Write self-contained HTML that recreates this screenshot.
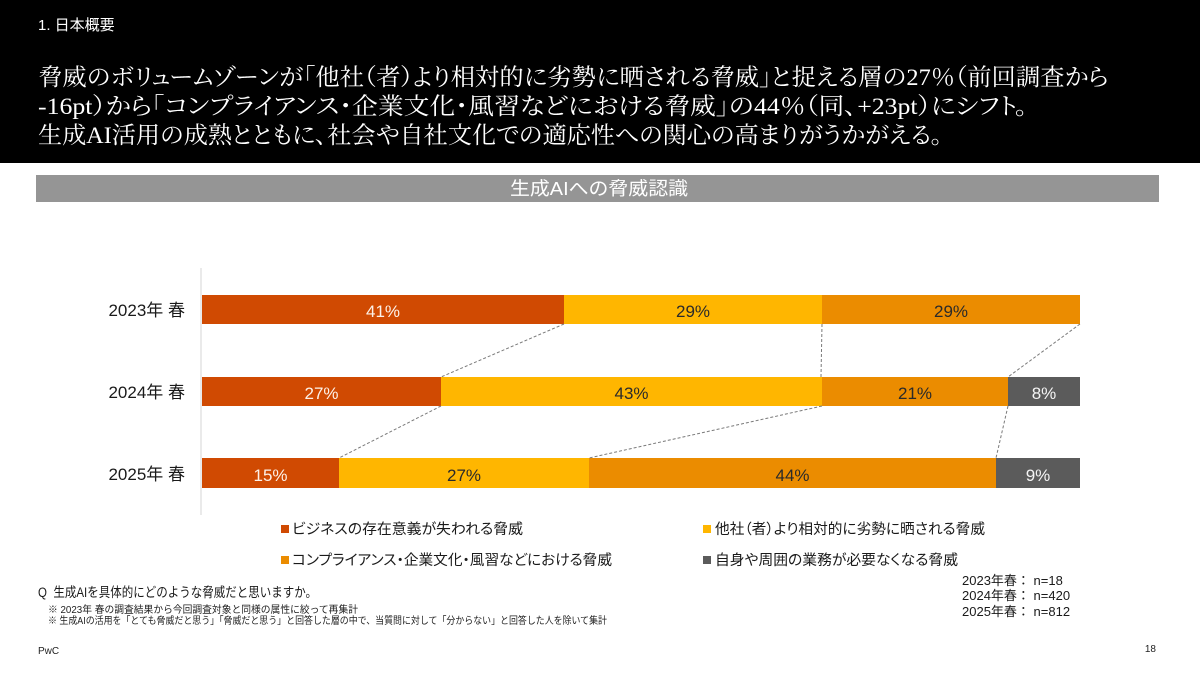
<!DOCTYPE html>
<html lang="ja">
<head>
<meta charset="utf-8">
<style>
  html,body{margin:0;padding:0;background:#fff;}
  body{width:1200px;height:675px;overflow:hidden;}
  svg{display:block;}
  .sans{font-family:"Liberation Sans","Noto Sans CJK JP",sans-serif;}
  .serif{font-family:"Liberation Serif","Noto Serif CJK SC",serif;font-feature-settings:"palt";}
  .palt{font-feature-settings:"palt";}
</style>
</head>
<body>
<svg width="1200" height="675" viewBox="0 0 1200 675" xmlns="http://www.w3.org/2000/svg">
  <!-- header -->
  <rect x="0" y="0" width="1200" height="163" fill="#000"/>
  <text x="38" y="30" class="sans" font-size="15" fill="#fff">1. 日本概要</text>
  <text x="38" y="85" class="serif" font-size="23.5" fill="#fff" textLength="1070" lengthAdjust="spacingAndGlyphs">脅威のボリュームゾーンが「他社（者）より相対的に劣勢に晒される脅威」と捉える層の27％（前回調査から</text>
  <text x="38" y="114" class="serif" font-size="23.5" fill="#fff" textLength="990" lengthAdjust="spacingAndGlyphs">-16pt）から「コンプライアンス・企業文化・風習などにおける脅威」の44％（同、+23pt）にシフト。</text>
  <text x="38" y="143" class="serif" font-size="23.5" fill="#fff" textLength="905" lengthAdjust="spacingAndGlyphs">生成AI活用の成熟とともに、社会や自社文化での適応性への関心の高まりがうかがえる。</text>

  <!-- section title bar -->
  <rect x="36" y="175" width="1123" height="27" fill="#959595"/>
  <text x="510" y="195" class="sans" font-size="18.5" fill="#fff" textLength="178" lengthAdjust="spacingAndGlyphs">生成AIへの脅威認識</text>

  <!-- axis line -->
  <line x1="201" y1="268" x2="201" y2="515" stroke="#e3e3e3" stroke-width="1.5"/>

  <!-- y labels -->
  <g class="sans" font-size="17" fill="#1a1a1a" text-anchor="end">
    <text x="185" y="316">2023年 春</text>
    <text x="185" y="398">2024年 春</text>
    <text x="185" y="480">2025年 春</text>
  </g>

  <!-- bars 2023 -->
  <rect x="202" y="295" width="362" height="29" fill="#D04A02"/>
  <rect x="564" y="295" width="258" height="29" fill="#FFB600"/>
  <rect x="822" y="295" width="258" height="29" fill="#EB8C00"/>
  <!-- bars 2024 -->
  <rect x="202" y="377" width="239" height="29" fill="#D04A02"/>
  <rect x="441" y="377" width="381" height="29" fill="#FFB600"/>
  <rect x="822" y="377" width="186" height="29" fill="#EB8C00"/>
  <rect x="1008" y="377" width="72" height="29" fill="#5B5B5B"/>
  <!-- bars 2025 -->
  <rect x="202" y="458" width="137" height="30" fill="#D04A02"/>
  <rect x="339" y="458" width="250" height="30" fill="#FFB600"/>
  <rect x="589" y="458" width="407" height="30" fill="#EB8C00"/>
  <rect x="996" y="458" width="84" height="30" fill="#5B5B5B"/>

  <!-- bar labels -->
  <g class="sans" font-size="17" text-anchor="middle">
    <text x="383" y="317" fill="#fdf1e8">41%</text>
    <text x="693" y="317" fill="#2a2a2a">29%</text>
    <text x="951" y="317" fill="#2a2a2a">29%</text>

    <text x="321.5" y="399" fill="#fdf1e8">27%</text>
    <text x="631.5" y="399" fill="#2a2a2a">43%</text>
    <text x="915" y="399" fill="#2a2a2a">21%</text>
    <text x="1044" y="399" fill="#f4f4f4">8%</text>

    <text x="270.5" y="481" fill="#fdf1e8">15%</text>
    <text x="464" y="481" fill="#2a2a2a">27%</text>
    <text x="792.5" y="481" fill="#2a2a2a">44%</text>
    <text x="1038" y="481" fill="#f4f4f4">9%</text>
  </g>

  <!-- dashed connectors -->
  <g stroke="#7a7a7a" stroke-width="1" stroke-dasharray="3 2" fill="none">
    <line x1="564" y1="324" x2="441" y2="377"/>
    <line x1="441" y1="406" x2="339" y2="458"/>
    <line x1="822" y1="324" x2="821" y2="377"/>
    <line x1="822" y1="406" x2="589" y2="458"/>
    <line x1="1080" y1="324" x2="1008" y2="377"/>
    <line x1="1008" y1="406" x2="996" y2="458"/>
  </g>

  <!-- legend -->
  <rect x="281" y="525" width="8" height="8" fill="#D04A02"/>
  <rect x="281" y="556" width="8" height="8" fill="#EB8C00"/>
  <rect x="703" y="525" width="8" height="8" fill="#FFB600"/>
  <rect x="703" y="556" width="8" height="8" fill="#5B5B5B"/>
  <g class="sans palt" font-size="14.5" fill="#1a1a1a">
    <text x="292" y="534" textLength="231" lengthAdjust="spacingAndGlyphs">ビジネスの存在意義が失われる脅威</text>
    <text x="292" y="565" textLength="320" lengthAdjust="spacingAndGlyphs">コンプライアンス・企業文化・風習などにおける脅威</text>
    <text x="715" y="534" textLength="270" lengthAdjust="spacingAndGlyphs">他社（者）より相対的に劣勢に晒される脅威</text>
    <text x="715" y="565" textLength="243" lengthAdjust="spacingAndGlyphs">自身や周囲の業務が必要なくなる脅威</text>
  </g>

  <!-- question and notes -->
  <text x="38" y="597" class="sans" font-size="13.5" fill="#1a1a1a" textLength="279" lengthAdjust="spacingAndGlyphs">Q&#160;&#160;生成AIを具体的にどのような脅威だと思いますか。</text>
  <text x="48" y="613" class="sans" font-size="10" fill="#222" textLength="310" lengthAdjust="spacingAndGlyphs">※ 2023年 春の調査結果から今回調査対象と同様の属性に絞って再集計</text>
  <text x="48" y="624" class="sans" font-size="10" fill="#222" textLength="559" lengthAdjust="spacingAndGlyphs">※ 生成AIの活用を「とても脅威だと思う」「脅威だと思う」と回答した層の中で、当質問に対して「分からない」と回答した人を除いて集計</text>

  <!-- n counts -->
  <g class="sans" font-size="13" fill="#1a1a1a">
    <text x="962" y="585">2023年春： n=18</text>
    <text x="962" y="600">2024年春： n=420</text>
    <text x="962" y="616">2025年春： n=812</text>
  </g>

  <!-- footer -->
  <text x="38" y="654" class="sans" font-size="10" fill="#222">PwC</text>
  <text x="1156" y="652" class="sans" font-size="10" fill="#222" text-anchor="end">18</text>
</svg>
</body>
</html>
